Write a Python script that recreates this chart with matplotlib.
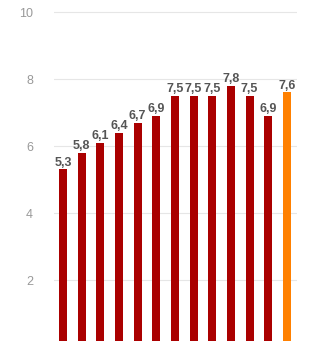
import matplotlib.pyplot as plt

plt.rcParams['font.family'] = ['Liberation Sans', 'DejaVu Sans']

# data
values = [5.3, 5.8, 6.1, 6.4, 6.7, 6.9, 7.5, 7.5, 7.5, 7.8, 7.5, 6.9, 7.6]
colors = ['#aa0000'] * 12 + ['#ff8000']
y_ticks = [2, 4, 6, 8, 10]

fig = plt.figure(figsize=(3.30, 3.41), dpi=100)
ax = fig.add_axes([54 / 330, 0, 243 / 330, 1])

x = range(len(values))
ax.bar(x, values, width=0.43, color=colors, zorder=2)

for xi, v in zip(x, values):
    ax.text(xi, v + 0.02, f'{v:.1f}'.replace('.', ','), ha='center', va='bottom',
            fontsize=9, fontweight='bold', color='#555555', zorder=3)

ax.set_xlim(-0.48, 12.54)
ax.set_ylim(0.18, 10.36)
ax.set_yticks(y_ticks)
ax.set_yticklabels([str(t) for t in y_ticks])
ax.grid(axis='y', color='#e6e6e6', linewidth=0.8, zorder=0)
ax.set_xticks([])
ax.tick_params(axis='y', length=0, pad=15, labelsize=9, labelcolor='#999999')
for s in ax.spines.values():
    s.set_visible(False)

fig.savefig('out.png', dpi=100)
